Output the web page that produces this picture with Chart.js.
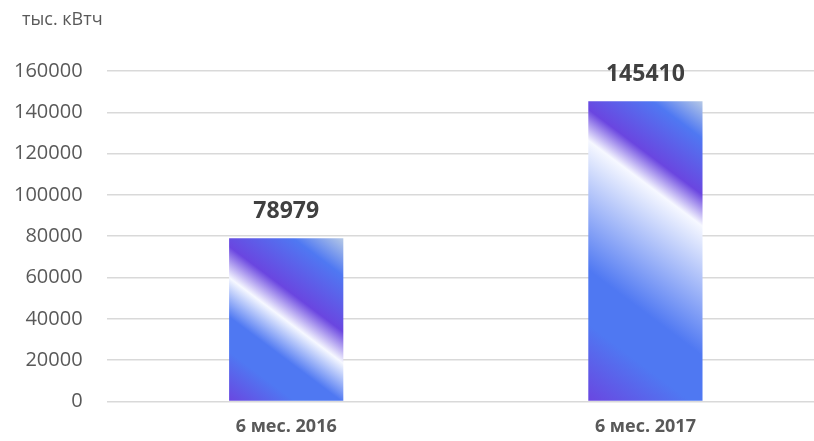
<!DOCTYPE html>
<html>
<head>
<meta charset="utf-8">
<script src="https://cdn.jsdelivr.net/npm/chart.js@4.4.1/dist/chart.umd.min.js"></script>
<style>
  html,body{margin:0;padding:0;overflow:hidden;background:#fff;}
  #wrap{position:absolute;left:0;top:0;width:825px;height:441px;}
</style>
</head>
<body>
<div id="wrap"><canvas id="c"></canvas></div>
<script>
'use strict';
// ── DATA ──────────────────────────────────────────────────────
const categories = ['6 мес. 2016', '6 мес. 2017'];
const values = [78979, 145410];
const yTicks = [0, 20000, 40000, 60000, 80000, 100000, 120000, 140000, 160000];
const unitLabel = 'тыс. кВтч';

// ── COLOURS ───────────────────────────────────────────────────
const PURPLE = '#6a46e0', BLUE = '#4f78f2', WHITE = '#f6f8ff', STEEL = '#b6c9e6';
const GREY = '#595959', DARK = '#404040', GRID = '#d9d9d9';
const FONT = "'Open Sans', 'Noto Sans', sans-serif";
const BAR_PCT = 0.318;

// diagonal striped fill, measured from each bar's top-right corner
function barFill(c) {
  const chart = c.chart, area = chart.chartArea;
  if (!area || c.dataIndex == null) return BLUE;
  const xs = chart.scales.x, ys = chart.scales.y;
  const cx = xs.getPixelForValue(c.dataIndex);
  const w = (area.right - area.left) / categories.length * BAR_PCT;
  const x1 = cx + w / 2;
  const y0 = ys.getPixelForValue(values[c.dataIndex]);
  const h = ys.getPixelForValue(0) - y0;
  const L = 0.6 * w + 0.8 * h;
  const g = chart.ctx.createLinearGradient(x1, y0, x1 - 0.6 * L, y0 + 0.8 * L);
  const t = d => Math.min(0.6, d / L);
  g.addColorStop(0, STEEL);
  g.addColorStop(t(30), BLUE);
  g.addColorStop(t(75), PURPLE);
  g.addColorStop(t(100), WHITE);
  g.addColorStop(0.66, BLUE);
  g.addColorStop(0.8, BLUE);
  g.addColorStop(1, PURPLE);
  return g;
}

// ── PLUGINS ───────────────────────────────────────────────────
const extras = {
  id: 'extras',
  afterDatasetsDraw(chart) {
    const ctx = chart.ctx;
    ctx.save();
    ctx.textAlign = 'center';
    ctx.textBaseline = 'middle';
    ctx.fillStyle = DARK;
    ctx.font = 'bold 23px ' + FONT;
    chart.getDatasetMeta(0).data.forEach((bar, i) => {
      ctx.fillText(String(values[i]), bar.x, bar.y - 27);
    });
    ctx.textAlign = 'left';
    ctx.fillStyle = GREY;
    ctx.font = '18px ' + FONT;
    ctx.fillText(unitLabel, 22, 20);
    ctx.restore();
  }
};

// ── CHART ─────────────────────────────────────────────────────
new Chart(document.getElementById('c'), {
  type: 'bar',
  data: {
    labels: categories,
    datasets: [{
      data: values,
      backgroundColor: barFill,
      borderWidth: 0,
      barPercentage: BAR_PCT,
      categoryPercentage: 1
    }]
  },
  options: {
    responsive: true,
    maintainAspectRatio: false,
    animation: false,
    layout: { padding: { top: 71, left: -10, right: 0, bottom: -12 } },
    plugins: { legend: { display: false }, tooltip: { enabled: false } },
    scales: {
      x: {
        grid: { display: false, drawTicks: false },
        border: { display: false },
        ticks: { color: GREY, padding: 15, font: { family: FONT, size: 18, weight: 'bold' } }
      },
      y: {
        min: yTicks[0],
        max: yTicks[yTicks.length - 1],
        afterBuildTicks: s => { s.ticks = yTicks.map(v => ({ value: v })); },
        border: { display: false },
        grid: { color: GRID, lineWidth: 1.5, drawTicks: false },
        ticks: { color: GREY, padding: 24, font: { family: FONT, size: 20 }, callback: v => String(v) }
      }
    }
  },
  plugins: [extras]
});
</script>
</body>
</html>
